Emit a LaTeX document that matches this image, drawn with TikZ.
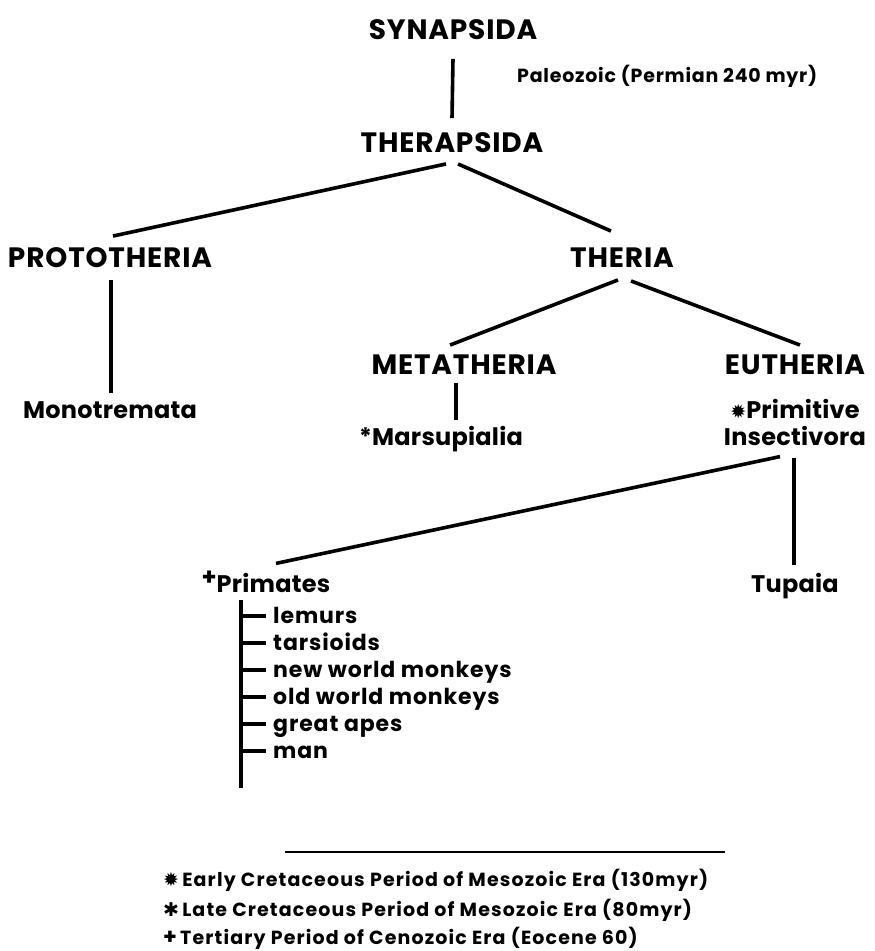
\documentclass[tikz,border=0pt]{standalone}
\usepackage{fontspec}
\setmainfont{Poppins}
\newfontfamily\symfont{DejaVu Sans}
\usetikzlibrary{positioning}

\begin{document}
\begin{tikzpicture}[
  x=1pt, y=-1pt,
  taxon/.style={inner sep=0pt, text height=19.5pt, text depth=0pt,
                font=\fontsize{28}{30}\selectfont\bfseries\addfontfeatures{LetterSpace=3}},
  genus/.style={inner sep=0pt, text height=16.8pt, text depth=0pt, align=center,
                font=\fontsize{24}{27}\selectfont\bfseries\addfontfeatures{LetterSpace=1}},
  member/.style={anchor=west, inner sep=0pt, text height=15.4pt, text depth=0pt,
                 font=\fontsize{22}{24}\selectfont\bfseries\addfontfeatures{LetterSpace=4}},
  era/.style={anchor=west, inner sep=0pt,
              font=\fontsize{19}{21}\selectfont\bfseries\addfontfeatures{LetterSpace=6}},
  branch/.style={line width=3.6pt},
  tick/.style={line width=3.2pt},
]
\useasboundingbox (0,0) rectangle (875,951);

% --- Main lineage ---
\node[taxon] (synap) at (453,30) {SYNAPSIDA};
\node[era, font=\fontsize{19}{21}\selectfont\bfseries\addfontfeatures{LetterSpace=4}]
      (paleo) at (517,76) {Paleozoic (Permian 240 myr)};
\node[taxon] (therap) at (452,143) {THERAPSIDA};
\draw[branch] ([yshift=-19pt]synap.south) -- ([yshift=15pt]therap.north);

% --- Prototheria / Theria ---
\node[taxon] (proto) at (110,258) {PROTOTHERIA};
\node[taxon] (theria) at (622,258) {THERIA};
\draw[branch] ([xshift=-6pt,yshift=-11pt]therap.south) -- ([xshift=3pt,yshift=12pt]proto.north);
\draw[branch] ([xshift=6pt,yshift=-11pt]therap.south) -- ([xshift=-11pt,yshift=17pt]theria.north);

\node[genus] (mono) at (110,410) {Monotremata};
\draw[branch] ([xshift=1pt,yshift=-12pt]proto.south) -- ([xshift=1pt,yshift=8pt]mono.north);

% --- Metatheria / Eutheria ---
\node[taxon] (meta) at (464,365) {METATHERIA};
\node[taxon] (euth) at (795,365) {EUTHERIA};
\draw[branch] ([xshift=-4pt,yshift=-12pt]theria.south) -- ([xshift=-14pt,yshift=10pt]meta.north);
\draw[branch] ([xshift=9pt,yshift=-13pt]theria.south) -- ([xshift=5pt,yshift=10pt]euth.north);

\node[genus] (marsu) at (441,437) {*Marsupialia};
\draw[branch] ([xshift=-8pt,yshift=-8pt]meta.south) -- ([xshift=15pt,yshift=8pt]marsu.north);

\node[genus] (insect) at (795,437) {{\symfont\fontsize{19}{19}\selectfont ✹}Primitive\\Insectivora};

% --- Eutherian descendants ---
\node[genus] (prim) at (266,584) {\raisebox{7pt}{\fontsize{24}{24}\selectfont +}Primates};
\node[genus] (tupaia) at (795,584) {Tupaia};
\draw[branch] ([xshift=-15pt,yshift=-11pt]insect.south) -- ([xshift=10pt,yshift=12pt]prim.north);
\draw[branch] ([xshift=-1pt,yshift=-12pt]insect.south) -- ([xshift=-1pt,yshift=10pt]tupaia.north);

% Primate groups
\coordinate (stem) at (241,600);
\foreach \name/\txt [count=\i] in {lem/lemurs, tar/tarsioids, nwm/new world monkeys,
                                   owm/old world monkeys, ape/great apes, man/man} {
  \node[member] (\name) at (273,589+27*\i) {\txt};
  \draw[tick] (stem |- \name.west) -- ([xshift=-7pt]\name.west);
}
\coordinate (stemend) at (241,788);
\draw[tick] (stem) -- (stemend);

% --- Time scale key ---
\draw[line width=2.6pt] (285,852) -- (725,852);
\node[era] (early) at (163,880) {{\symfont ✹}\,Early Cretaceous Period of Mesozoic Era (130myr)};
\node[era] (late) at (163,910) {{\symfont ✱}\,Late Cretaceous Period of Mesozoic Era (80myr)};
\node[era] (tert) at (163,938) {{\fontsize{22}{22}\selectfont +}\,Tertiary Period of Cenozoic Era (Eocene 60)};

\end{tikzpicture}
\end{document}
